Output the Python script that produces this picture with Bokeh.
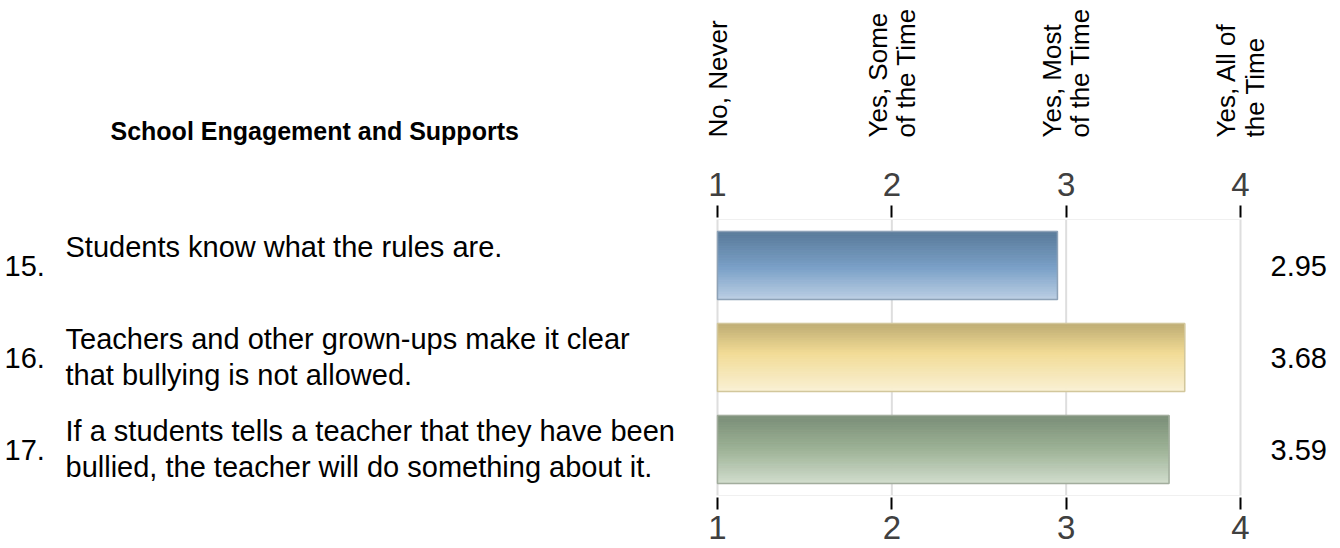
import numpy as np
from bokeh.plotting import figure
from bokeh.models import Range1d, LinearAxis, FixedTicker, ColumnDataSource
from bokeh.core.properties import value
from bokeh.embed import file_html
from bokeh.resources import INLINE

# ---------------- data ----------------
title_text = "School Engagement and Supports"
item_numbers = ["15.", "16.", "17."]
item_texts = [
    "Students know what the rules are.",
    "Teachers and other grown-ups make it clear\nthat bullying is not allowed.",
    "If a students tells a teacher that they have been\nbullied, the teacher will do something about it.",
]
values = [2.95, 3.68, 3.59]
value_labels = ["2.95", "3.68", "3.59"]
scale_ticks = [1, 2, 3, 4]
scale_labels = ["No, Never", "Yes, Some\nof the Time", "Yes, Most\nof the Time", "Yes, All of\nthe Time"]

# ---------------- styles ----------------
FONT = "Liberation Sans"
gradients = [
    [(0.0, (88, 121, 152)), (0.55, (123, 161, 200)), (1.0, (187, 206, 227))],   # blue
    [(0.0, (189, 171, 114)), (0.45, (242, 220, 150)), (1.0, (249, 240, 212))],  # gold
    [(0.0, (121, 141, 118)), (0.5, (157, 178, 150)), (1.0, (208, 220, 204))],   # green
]
outline_colors = ["#8ea2b7", "#d2c79c", "#a2ad9d"]
BAR_H = 0.74
W, H = 1340, 548

# pixel geometry: scale value 1 -> px 717, 4 -> px 1240; category rows 92 px, row 0 centred at px 265
PX_L, PX_R = 717.0, 1240.0
XK = (PX_R - PX_L) / 3.0
ROW = 92.0
TOP = 219.0  # top of the bar area (data -0.5)


def xpx(px):
    return 1 + (px - PX_L) / XK


def ypx(py):
    return -0.5 + (py - TOP) / ROW


def interp(stops, t):
    for (t0, c0), (t1, c1) in zip(stops[:-1], stops[1:]):
        if t0 <= t <= t1:
            f = (t - t0) / (t1 - t0)
            c = [int(round(a + (b - a) * f)) for a, b in zip(c0, c1)]
            return "#%02x%02x%02x" % tuple(c)
    return "#%02x%02x%02x" % tuple(stops[-1][1])


n = len(values)
p = figure(width=W, height=H, output_backend="svg", toolbar_location=None, title=None,
           x_range=Range1d(xpx(0), xpx(W)), y_range=Range1d(ypx(H), ypx(0)),
           x_axis_location=None, y_axis_location=None,
           min_border=0, min_border_left=0, min_border_right=0, min_border_top=0,
           min_border_bottom=0)
p.outline_line_color = None
p.background_fill_color = "white"
p.border_fill_color = "white"
p.xgrid.visible = False
p.ygrid.visible = False

y_top, y_bot = -0.5, n - 0.5

# grid lines and faint frame lines
p.segment(x0=scale_ticks, y0=[y_top] * len(scale_ticks), x1=scale_ticks, y1=[y_bot] * len(scale_ticks),
          line_color="#dedede", line_width=2)
p.segment(x0=[scale_ticks[0]] * 2, y0=[y_top, y_bot], x1=[scale_ticks[-1]] * 2, y1=[y_top, y_bot],
          line_color="#f0f0f0", line_width=1)

# axes (fixed inside the canvas, no layout space)
for loc, fixed, standoff in [("above", y_top - 2 / ROW, 10), ("below", y_bot + 2 / ROW, 6)]:
    ax = LinearAxis(ticker=FixedTicker(ticks=scale_ticks), fixed_location=fixed)
    ax.axis_line_color = None
    ax.major_tick_line_color = "black"
    ax.major_tick_line_width = 2
    ax.major_tick_out = 12
    ax.major_tick_in = 0
    ax.minor_tick_line_color = None
    ax.major_label_text_font_size = "33px"
    ax.major_label_text_font = FONT
    ax.major_label_text_color = "#404040"
    ax.major_label_standoff = standoff
    p.add_layout(ax, loc)

# gradient bars built from horizontal strips
K = 40
ys, rights, cols = [], [], []
for i, v in enumerate(values):
    for k in range(K):
        t = (k + 0.5) / K
        ys.append(i - BAR_H / 2 + t * BAR_H)
        rights.append(v)
        cols.append(interp(gradients[i], t))
src = ColumnDataSource(dict(y=ys, right=rights, color=cols))
p.hbar(y="y", left=1, right="right", height=BAR_H / K, fill_color="color",
       line_color="color", line_width=1, source=src)
p.hbar(y=list(range(n)), left=1, right=values, height=BAR_H,
       fill_color=None, line_color=outline_colors, line_width=1.5)

# scale header labels (rotated)
p.text(x=scale_ticks, y=[ypx(137)] * len(scale_ticks), text=scale_labels,
       angle=90, angle_units="deg", text_align="left", text_baseline="middle",
       text_font=value(FONT), text_font_size="26px", text_color="black", text_line_height=0.95)

# section title
p.text(x=[xpx(110)], y=[ypx(130)], text=[title_text], text_font=value(FONT),
       text_font_style="bold", text_font_size="25px", text_baseline="alphabetic",
       text_align="left", text_color="black")

rows = list(range(n))
# item numbers
p.text(x=[xpx(4)] * n, y=[r + 0.01 for r in rows], text=item_numbers, text_font=value(FONT),
       text_font_size="29px", text_baseline="middle", text_align="left", text_color="black")
# item texts
p.text(x=[xpx(65)] * n, y=[r - 0.378 for r in rows], text=item_texts, text_font=value(FONT),
       text_font_size="29px", text_baseline="top", text_align="left", text_color="black",
       text_line_height=1.12)
# values
p.text(x=[xpx(1270)] * n, y=[r + 0.01 for r in rows], text=value_labels, text_font=value(FONT),
       text_font_size="29px", text_baseline="middle", text_align="left", text_color="black")

open("out.html", "w").write(file_html(p, INLINE))
